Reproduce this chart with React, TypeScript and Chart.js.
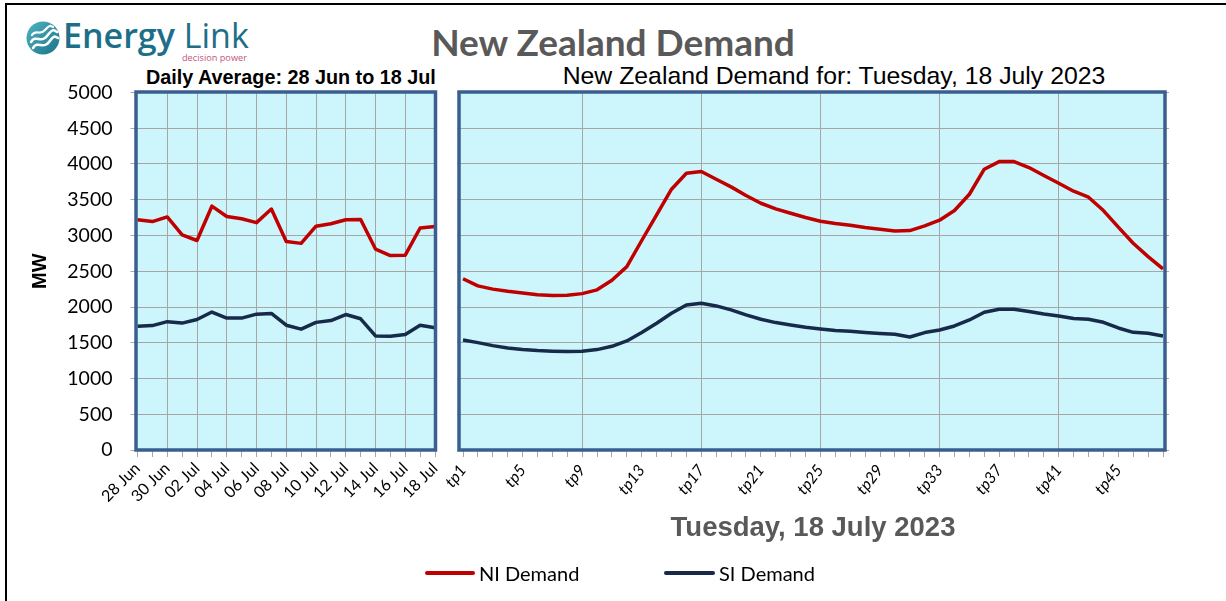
import React, { useEffect, useRef } from 'react';
import { Chart, registerables } from 'chart.js';

Chart.register(...registerables);

// ---------- data ----------
const dayLabels = [
  '28 Jun', '29 Jun', '30 Jun', '01 Jul', '02 Jul', '03 Jul', '04 Jul', '05 Jul', '06 Jul', '07 Jul', '08 Jul',
  '09 Jul', '10 Jul', '11 Jul', '12 Jul', '13 Jul', '14 Jul', '15 Jul', '16 Jul', '17 Jul', '18 Jul',
];
const dailyNI = [3220, 3195, 3260, 3010, 2930, 3410, 3265, 3235, 3180, 3370, 2915, 2890, 3130, 3165, 3220, 3225, 2810, 2720, 2725, 3105, 3125];
const dailySI = [1730, 1740, 1795, 1775, 1825, 1930, 1845, 1845, 1900, 1910, 1745, 1690, 1785, 1810, 1895, 1835, 1595, 1590, 1615, 1745, 1710];

const tpLabels = [
  'tp1', 'tp2', 'tp3', 'tp4', 'tp5', 'tp6', 'tp7', 'tp8', 'tp9', 'tp10', 'tp11', 'tp12',
  'tp13', 'tp14', 'tp15', 'tp16', 'tp17', 'tp18', 'tp19', 'tp20', 'tp21', 'tp22', 'tp23', 'tp24',
  'tp25', 'tp26', 'tp27', 'tp28', 'tp29', 'tp30', 'tp31', 'tp32', 'tp33', 'tp34', 'tp35', 'tp36',
  'tp37', 'tp38', 'tp39', 'tp40', 'tp41', 'tp42', 'tp43', 'tp44', 'tp45', 'tp46', 'tp47', 'tp48',
];
const tpNI = [
  2395, 2295, 2250, 2220, 2197, 2170, 2160, 2165, 2187, 2240,
  2375, 2565, 2930, 3290, 3647, 3870, 3895, 3787, 3680, 3560,
  3451, 3372, 3311, 3251, 3200, 3167, 3144, 3111, 3088, 3064,
  3069, 3134, 3214, 3349, 3577, 3927, 4034, 4034, 3950, 3839,
  3731, 3619, 3535, 3349, 3116, 2892, 2705, 2533,
];
const tpSI = [
  1539, 1502, 1460, 1427, 1404, 1390, 1381, 1376, 1381, 1404,
  1450, 1525, 1642, 1772, 1912, 2029, 2052, 2015, 1959, 1889,
  1828, 1782, 1749, 1716, 1693, 1670, 1660, 1642, 1628, 1618,
  1581, 1642, 1679, 1735, 1819, 1926, 1968, 1968, 1936, 1903,
  1875, 1838, 1828, 1786, 1707, 1646, 1632, 1595,
];

const Y_MIN = 0;
const Y_MAX = 5000;
const Y_STEP = 500;

const mainTitle = 'New Zealand Demand';
const leftSubtitle = 'Daily Average: 28 Jun to 18 Jul';
const rightSubtitle = 'New Zealand Demand for: Tuesday, 18 July 2023';
const xTitle = 'Tuesday, 18 July 2023';
const yTitle = 'MW';
const seriesNames = ['NI Demand', 'SI Demand'];

// ---------- style ----------
const RED = '#C00000';
const NAVY = '#172A4A';
const BG = '#CCF5FC';
const FRAME = '#3A5F8E';
const GRID = '#A6A6A6';
const CLEAR = 'rgba(0,0,0,0)';
const SANS = "Lato, 'Open Sans', sans-serif";
const ARIAL = "'Liberation Sans', Arial, sans-serif";

function makeFramePlugin(out: { l: number; r: number; t: number; b: number }) {
  return {
    id: 'frame',
    beforeDraw(chart: any) {
      const { ctx, chartArea: a } = chart;
      ctx.save();
      ctx.fillStyle = BG;
      ctx.fillRect(a.left - out.l, a.top - out.t, a.right - a.left + out.l + out.r, a.bottom - a.top + out.t + out.b);
      ctx.restore();
    },
    afterDatasetsDraw(chart: any) {
      const { ctx, chartArea: a } = chart;
      ctx.save();
      ctx.strokeStyle = FRAME;
      ctx.lineWidth = 3.5;
      ctx.strokeRect(a.left - out.l, a.top - out.t, a.right - a.left + out.l + out.r, a.bottom - a.top + out.t + out.b);
      ctx.restore();
    },
  };
}

function lineDataset(label: string, data: number[], color: string) {
  return {
    label,
    data,
    borderColor: color,
    backgroundColor: color,
    borderWidth: 3.5,
    pointRadius: 0,
    pointHoverRadius: 0,
    tension: 0,
    borderJoinStyle: 'round' as const,
    fill: false,
  };
}

export default function App() {
  const leftRef = useRef<HTMLCanvasElement | null>(null);
  const rightRef = useRef<HTMLCanvasElement | null>(null);

  useEffect(() => {
    const left = new Chart(leftRef.current as HTMLCanvasElement, {
      type: 'line',
      data: {
        labels: dayLabels,
        datasets: [lineDataset(seriesNames[0], dailyNI, RED), lineDataset(seriesNames[1], dailySI, NAVY)],
      },
      plugins: [makeFramePlugin({ l: 1.5, r: 0.5, t: 0.5, b: 0 })],
      options: {
        responsive: false,
        animation: false,
        devicePixelRatio: 1,
        events: [],
        layout: { padding: { top: 32.5, right: 10, bottom: 0, left: 0 } },
        plugins: { legend: { display: false }, title: { display: false }, tooltip: { enabled: false } },
        scales: {
          x: {
            type: 'category',
            offset: false,
            border: { display: false },
            grid: {
              color: (c: any) => (c.index % 2 === 0 && c.index > 0 && c.index < dayLabels.length - 1 ? GRID : CLEAR),
              tickColor: GRID,
              tickLength: 7,
              lineWidth: 1,
            },
            ticks: {
              autoSkip: false,
              maxRotation: 45,
              minRotation: 45,
              padding: 2,
              color: '#000',
              font: { family: SANS, size: 16 },
              callback: (_v: any, i: number) => (i % 2 === 0 ? dayLabels[i] : ''),
            },
            afterFit: (s: any) => {
              s.height = 150;
              s.paddingLeft = 0;
              s.paddingRight = 0;
            },
          },
          y: {
            min: Y_MIN,
            max: Y_MAX,
            border: { display: false },
            grid: { color: GRID, tickLength: 7, lineWidth: 1 },
            ticks: {
              stepSize: Y_STEP,
              padding: 18,
              color: '#000',
              font: { family: SANS, size: 19.5 },
              callback: (v: any) => String(v),
            },
            title: {
              display: true,
              text: yTitle,
              color: '#000',
              font: { family: ARIAL, size: 20, weight: 'bold' },
              padding: { top: 28, bottom: 0 },
            },
            afterFit: (s: any) => {
              s.width = 137.5;
              s.paddingTop = 0;
              s.paddingBottom = 0;
            },
          },
        },
      } as any,
    });

    const right = new Chart(rightRef.current as HTMLCanvasElement, {
      type: 'line',
      data: {
        labels: tpLabels,
        datasets: [lineDataset(seriesNames[0], tpNI, RED), lineDataset(seriesNames[1], tpSI, NAVY)],
      },
      plugins: [makeFramePlugin({ l: 4, r: 2, t: 0.5, b: 0 })],
      options: {
        responsive: false,
        animation: false,
        devicePixelRatio: 1,
        events: [],
        layout: { padding: { top: 32.5, right: 45, bottom: 0, left: 0 } },
        plugins: { legend: { display: false }, title: { display: false }, tooltip: { enabled: false } },
        scales: {
          x: {
            type: 'category',
            offset: false,
            border: { display: false },
            grid: {
              color: (c: any) => (c.index % 8 === 0 && c.index > 0 ? GRID : CLEAR),
              tickColor: GRID,
              tickLength: 7,
              lineWidth: 1,
            },
            ticks: {
              autoSkip: false,
              maxRotation: 52,
              minRotation: 52,
              padding: 4,
              color: '#000',
              font: { family: SANS, size: 16, style: 'italic' },
              callback: (_v: any, i: number) => (i % 4 === 0 ? tpLabels[i] : ''),
            },
            title: {
              display: true,
              text: xTitle,
              color: '#595959',
              font: { family: ARIAL, size: 27.5, weight: 'bold' },
              padding: { top: 0, bottom: 55 },
            },
            afterFit: (s: any) => {
              s.height = 150;
              s.paddingLeft = 0;
              s.paddingRight = 0;
            },
          },
          y: {
            position: 'left',
            min: Y_MIN,
            max: Y_MAX,
            border: { display: false },
            grid: { color: GRID, tickLength: 6, lineWidth: 1 },
            ticks: { stepSize: Y_STEP, display: false },
            afterFit: (s: any) => {
              s.width = 18;
              s.paddingTop = 0;
              s.paddingBottom = 0;
            },
          },
          y2: {
            position: 'right',
            min: Y_MIN,
            max: Y_MAX,
            border: { display: false },
            grid: { color: GRID, tickLength: 6, lineWidth: 1, drawOnChartArea: false },
            ticks: { stepSize: Y_STEP, display: false },
            afterFit: (s: any) => {
              s.width = 18;
              s.paddingTop = 0;
              s.paddingBottom = 0;
            },
          },
        },
      } as any,
    });

    return () => {
      left.destroy();
      right.destroy();
    };
  }, []);

  const abs = (s: React.CSSProperties): React.CSSProperties => ({ position: 'absolute', whiteSpace: 'nowrap', ...s });

  return (
    <div style={{ position: 'fixed', left: 0, top: 0, width: 1226, height: 601, background: '#fff', overflow: 'hidden' }}>
      {/* outer border */}
      <div style={abs({ left: 5, top: 3, width: 1300, height: 700, borderTop: '2px solid #000', borderLeft: '2px solid #000' })} />

      {/* logo */}
      <svg style={abs({ left: 25, top: 20 })} width={38} height={38} viewBox="0 0 38 38">
        <defs>
          <linearGradient id="lg" x1="0" y1="0" x2="1" y2="1">
            <stop offset="0" stopColor="#4FB3C0" />
            <stop offset="1" stopColor="#1C7389" />
          </linearGradient>
        </defs>
        <circle cx={18} cy={18} r={16.5} fill="url(#lg)" />
        <path d="M6 22 C 11 14, 16 24, 22 16 S 29 10, 32 12" stroke="#fff" strokeWidth={2.6} fill="none" strokeLinecap="round" />
        <path d="M8 28 C 13 20, 18 30, 24 22 S 30 17, 33 18" stroke="#fff" strokeWidth={2.6} fill="none" strokeLinecap="round" />
        <path d="M7 15 C 11 9, 15 16, 20 10 S 26 6, 28 7" stroke="#fff" strokeWidth={2.2} fill="none" strokeLinecap="round" />
      </svg>
      <div style={abs({ left: 63, top: 14, fontFamily: "'Open Sans', sans-serif", fontSize: 34, lineHeight: '42px', color: '#1D6E88' })}>
        <span style={{ fontWeight: 600 }}>Energy</span> <span style={{ fontWeight: 400 }}>Link</span>
      </div>
      <div style={abs({ left: 182, top: 52, fontFamily: "'Open Sans', sans-serif", fontSize: 9.2, lineHeight: '11px', color: '#C4557A' })}>
        decision power
      </div>

      {/* titles */}
      <div style={abs({ left: 0, width: 1226, top: 19, textAlign: 'center', fontFamily: SANS, fontWeight: 700, fontSize: 37, lineHeight: '46px', color: '#595959' })}>
        {mainTitle}
      </div>
      <div style={abs({ left: 146, top: 66, fontFamily: ARIAL, fontWeight: 700, fontSize: 19.8, lineHeight: '22px', color: '#000' })}>
        {leftSubtitle}
      </div>
      <div style={abs({ left: 434, width: 800, top: 62, textAlign: 'center', fontFamily: ARIAL, fontSize: 24.8, lineHeight: '28px', color: '#000' })}>
        {rightSubtitle}
      </div>

      {/* charts */}
      <canvas ref={leftRef} width={445} height={540} style={abs({ left: 0, top: 60, width: 445, height: 540 })} />
      <canvas ref={rightRef} width={781} height={540} style={abs({ left: 445, top: 60, width: 781, height: 540 })} />

      {/* legend */}
      <div style={abs({ left: 425, top: 571, width: 50, height: 4, borderRadius: 2, background: RED })} />
      <div style={abs({ left: 479, top: 561, fontFamily: SANS, fontSize: 20, lineHeight: '24px', color: '#000' })}>
        {seriesNames[0]}
      </div>
      <div style={abs({ left: 664, top: 571, width: 51, height: 4, borderRadius: 2, background: NAVY })} />
      <div style={abs({ left: 719, top: 561, fontFamily: SANS, fontSize: 20, lineHeight: '24px', color: '#000' })}>
        {seriesNames[1]}
      </div>
    </div>
  );
}
